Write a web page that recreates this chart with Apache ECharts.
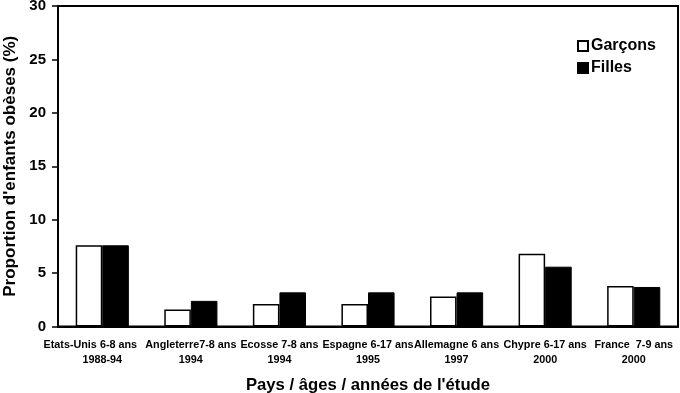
<!DOCTYPE html>
<html><head><meta charset="utf-8">
<script src="https://cdn.jsdelivr.net/npm/echarts@6/dist/echarts.min.js"></script>
<style>html,body{margin:0;padding:0;background:#fff}#c{width:680px;height:393px}</style>
</head><body><div id="c"></div>
<script>
const categories = ["Etats-Unis 6-8 ans\n1988-94","Angleterre7-8 ans\n1994","Ecosse 7-8 ans\n1994","Espagne 6-17 ans\n1995","Allemagne 6 ans\n1997","Chypre 6-17 ans\n2000","France  7-9 ans\n2000"];
const garcons = [7.6, 1.6, 2.1, 2.1, 2.8, 6.8, 3.8];
const filles = [7.6, 2.4, 3.2, 3.2, 3.2, 5.6, 3.7];
const yTicks = {min:0, max:30, interval:5};
const FONT = '"Liberation Sans", Arial, sans-serif';
const chart = echarts.init(document.getElementById('c'));
const lblStyle = {fontFamily:FONT, fontWeight:'bold', fontSize:10.8, lineHeight:15, color:'#000'};
chart.setOption({
  animation:false,
  textStyle:{fontFamily:FONT},
  grid:{left:58, right:2, top:6, bottom:66.5, outerBoundsMode:'none', containLabel:false,
    show:true, borderColor:'#000', borderWidth:2, backgroundColor:'transparent'},
  legend:{orient:'vertical', left:577, top:38, icon:'rect', itemWidth:10, itemHeight:10, itemGap:6, padding:0,
    textStyle:{fontFamily:FONT, fontWeight:'bold', fontSize:16, lineHeight:16, color:'#000', padding:[0,0,0,-2]}},
  xAxis:{type:'category', data:categories,
    axisLine:{lineStyle:{color:'#000', width:2}},
    axisTick:{inside:true, length:4, lineStyle:{color:'#000', width:1.5}},
    axisLabel:{color:'#000', fontFamily:FONT, fontWeight:'bold', fontSize:10.8, lineHeight:15, margin:11, interval:0,
      formatter:function(v, i){
        const parts = v.split('\n');
        if (i === 0) return '{a|' + parts[0] + '}\n{b|' + parts[1] + '}';
        return '{b|' + parts[0] + '}\n{b|' + parts[1] + '}';
      },
      rich:{a:Object.assign({padding:[0,24,0,0]}, lblStyle), b:lblStyle}},
    name:"Pays / âges / années de l'étude", nameLocation:'middle', nameGap:50,
    nameTextStyle:{color:'#000', fontFamily:FONT, fontWeight:'bold', fontSize:16.7}},
  yAxis:{type:'value', min:yTicks.min, max:yTicks.max, interval:yTicks.interval,
    splitLine:{show:false},
    axisLine:{show:true, lineStyle:{color:'#000', width:2}},
    axisTick:{show:true, length:6, lineStyle:{color:'#000', width:1.5}},
    axisLabel:{color:'#000', fontFamily:FONT, fontWeight:'bold', fontSize:15, margin:12},
    name:"Proportion d'enfants obèses (%)", nameLocation:'middle', nameGap:38,
    nameTextStyle:{color:'#000', fontFamily:FONT, fontWeight:'bold', fontSize:17}},
  series:[
    {name:'Garçons', type:'bar', data:garcons, barGap:'0%', barCategoryGap:'40%',
      itemStyle:{color:'#fff', borderColor:'#000', borderWidth:1.5}},
    {name:'Filles', type:'bar', data:filles, barGap:'0%', barCategoryGap:'40%',
      itemStyle:{color:'#000', borderColor:'#000', borderWidth:1}}
  ]
});
</script></body></html>
